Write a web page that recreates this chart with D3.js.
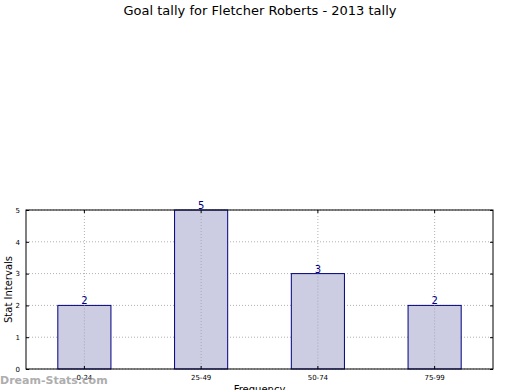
<!DOCTYPE html>
<html>
<head>
<meta charset="utf-8">
<script src="https://cdn.jsdelivr.net/npm/d3@7"></script>
<style>
  body { margin: 0; background: #fff; }
  text { font-family: "DejaVu Sans", sans-serif; }
</style>
</head>
<body>
<svg id="chart" width="520" height="390"></svg>
<script>
// data
var categories = ['0-24', '25-49', '50-74', '75-99'];
var tally = [2, 5, 3, 2];
var yTicks = [0, 1, 2, 3, 4, 5];

var W = 520, H = 390;
var margin = {top: 210, right: 27, bottom: 21, left: 26};
var w = W - margin.left - margin.right;
var h = H - margin.top - margin.bottom;

var svg = d3.select('#chart');

svg.append('text')
    .attr('x', W / 2).attr('y', 15)
    .attr('text-anchor', 'middle')
    .style('font-size', '13px')
    .text('Goal tally for Fletcher Roberts - 2013 tally');

var g = svg.append('g')
    .attr('transform', 'translate(' + margin.left + ',' + margin.top + ')');

var x = d3.scaleBand().domain(categories).range([0, w]).paddingInner(0).paddingOuter(0);
var y = d3.scaleLinear().domain([0, 5]).range([h, 0]);
var barW = x.bandwidth() * 0.455;

// dotted grid
g.selectAll('.hgrid').data(yTicks).enter().append('line')
    .attr('x1', 0).attr('x2', w)
    .attr('y1', function(d) { return y(d); }).attr('y2', function(d) { return y(d); })
    .attr('stroke', '#b0b0b0').attr('stroke-width', 1)
    .attr('stroke-dasharray', '1,2');

g.selectAll('.vgrid').data(categories).enter().append('line')
    .attr('x1', function(d) { return x(d) + x.bandwidth() / 2; })
    .attr('x2', function(d) { return x(d) + x.bandwidth() / 2; })
    .attr('y1', 0).attr('y2', h)
    .attr('stroke', '#b0b0b0').attr('stroke-width', 1)
    .attr('stroke-dasharray', '1,2');

// bars
g.selectAll('.bar').data(tally).enter().append('rect')
    .attr('x', function(d, i) { return x(categories[i]) + x.bandwidth() / 2 - barW / 2; })
    .attr('y', function(d) { return y(d); })
    .attr('width', barW)
    .attr('height', function(d) { return h - y(d); })
    .attr('fill', '#ccccE3')
    .attr('stroke', '#00007f')
    .attr('stroke-width', 1);

// grid shows through bars
g.selectAll('.vgrid2').data(categories).enter().append('line')
    .attr('x1', function(d) { return x(d) + x.bandwidth() / 2; })
    .attr('x2', function(d) { return x(d) + x.bandwidth() / 2; })
    .attr('y1', function(d, i) { return y(tally[i]); }).attr('y2', h)
    .attr('stroke', '#a8a8b8').attr('stroke-width', 1)
    .attr('stroke-dasharray', '1,2');

// value labels
g.selectAll('.val').data(tally).enter().append('text')
    .attr('x', function(d, i) { return x(categories[i]) + x.bandwidth() / 2; })
    .attr('y', function(d) { return y(d) - 1; })
    .attr('text-anchor', 'middle')
    .style('font-size', '10px')
    .attr('fill', '#00007f')
    .text(function(d) { return d; });

// frame
g.append('rect')
    .attr('x', 0).attr('y', 0).attr('width', w).attr('height', h)
    .attr('fill', 'none').attr('stroke', '#000').attr('stroke-width', 1);

// axes with inward ticks
var yAxis = d3.axisLeft(y).tickValues(yTicks).tickSize(-3).tickPadding(6).tickFormat(d3.format('d'));
g.append('g').call(yAxis)
    .call(function(s) { s.select('.domain').remove(); })
    .selectAll('text').style('font-size', '7px').attr('fill', '#000');

g.append('g').attr('transform', 'translate(' + w + ',0)')
    .call(d3.axisRight(y).tickValues(yTicks).tickSize(-3).tickFormat(''))
    .call(function(s) { s.select('.domain').remove(); });

var xAxis = d3.axisBottom(x).tickSize(-3).tickPadding(6);
g.append('g').attr('transform', 'translate(0,' + h + ')').call(xAxis)
    .call(function(s) { s.select('.domain').remove(); })
    .selectAll('text').style('font-size', '7px').attr('fill', '#000');

g.append('g')
    .call(d3.axisTop(x).tickSize(-3).tickFormat(''))
    .call(function(s) { s.select('.domain').remove(); });

// axis labels
svg.append('text')
    .attr('transform', 'translate(12,' + (margin.top + h / 2) + ') rotate(-90)')
    .attr('text-anchor', 'middle')
    .style('font-size', '10px')
    .text('Stat Intervals');

svg.append('text')
    .attr('x', margin.left + w / 2).attr('y', 393)
    .attr('text-anchor', 'middle')
    .style('font-size', '10px')
    .text('Frequency');

// watermark
svg.append('text')
    .attr('x', 0).attr('y', 384)
    .style('font-size', '11px')
    .style('font-weight', 'bold')
    .attr('fill', '#a0a0a0')
    .attr('opacity', 0.85)
    .text('Dream-Stats.com');
</script>
</body>
</html>
